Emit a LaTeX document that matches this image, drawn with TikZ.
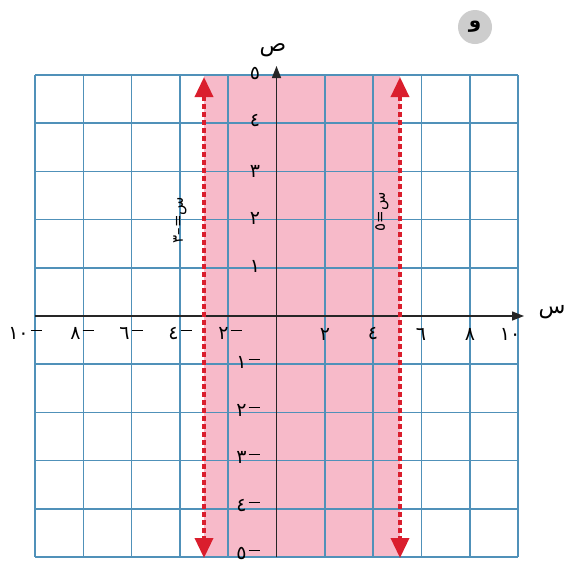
\documentclass[tikz,border=0pt]{standalone}
\usepackage{fontspec}
\newfontfamily\arabicfont[Script=Arabic]{DejaVu Sans}
\usetikzlibrary{arrows.meta}
\definecolor{gridblue}{RGB}{80,145,185}
\definecolor{pinkfill}{RGB}{247,186,201}
\definecolor{dred}{RGB}{218,30,45}
\definecolor{circgray}{RGB}{205,205,205}
\newcommand{\negnum}[1]{\hbox{#1}\kern2pt\rule[8pt]{11pt}{1.5pt}}
\begin{document}
\begin{tikzpicture}[x=1pt,y=-1pt,
  gridline/.style={draw=gridblue, line width=1.6pt},
  axisline/.style={draw=black!85, line width=1.4pt, -{Triangle[length=12pt,width=9pt]}},
  bound/.style={draw=dred, line width=3.5pt, dash pattern=on 5pt off 3pt,
     {Triangle[length=20pt,width=18pt]}-{Triangle[length=20pt,width=18pt]}},
  lab/.style={font=\arabicfont\fontsize{19}{19}\selectfont, inner sep=0pt},
  vlab/.style={font=\arabicfont\fontsize{15}{15}\selectfont, inner sep=0pt, rotate=90},
  axlab/.style={font=\arabicfont\fontsize{22}{22}\selectfont, inner sep=0pt}
]
\useasboundingbox (0,0) rectangle (581,563);
\fill[white] (0,0) rectangle (581,563);
% shaded region
\fill[pinkfill] (204,75) rectangle (400,557);
% grid
\foreach \i in {0,...,10} {
  \draw[gridline] ({35+48.3*\i},75) -- ({35+48.3*\i},557);
  \draw[gridline] (35,{75+48.2*\i}) -- (518,{75+48.2*\i});
}
% axes
\coordinate (xs) at (35,316);
\coordinate (xe) at (524,316);
\coordinate (ys) at (276.5,557);
\coordinate (ye) at (276.5,66);
\draw[axisline] (xs) -- (xe);
\draw[axisline] (ys) -- (ye);
\node[axlab] (xlab) at (552,312) {س};
\node[axlab] (ylab) at (273,50) {ص};
% boundary lines
\coordinate (lt) at (204,77);
\coordinate (lb) at (204,558);
\coordinate (rt) at (400,77);
\coordinate (rb) at (400,558);
\draw[bound] (lt) -- (lb);
\draw[bound] (rt) -- (rb);
% x tick labels
\foreach \x/\t in {325/٢,373/٤,421/٦,470/٨,510/١٠}
  \node[lab] at (\x,334) {\t};
\foreach \x/\t in {25/١٠,82/٨,131/٦,180/٤,230/٢}
  \node[lab] at (\x,333) {\negnum{\t}};
% y tick labels
\foreach \y/\t in {73/٥,121/٤,171/٣,218/٢,266/١}
  \node[lab] at (255,\y) {\t};
\foreach \y/\t in {362/١,410/٢,457/٣,505/٤,553/٥}
  \node[lab] at (248,\y) {\negnum{\t}};
% equations of boundaries
\node[vlab] (eqL) at (180,220) {\hbox{٣}\hbox{–}\hbox{=}\hbox{س}};
\node[vlab] (eqR) at (382,212) {\hbox{٥}\hbox{=}\hbox{س}};
% badge
\node[circle, fill=circgray, minimum size=34pt, inner sep=0pt,
      font=\arabicfont\bfseries\fontsize{20}{20}\selectfont] (badge) at (475,27) {و};
\end{tikzpicture}
\end{document}
